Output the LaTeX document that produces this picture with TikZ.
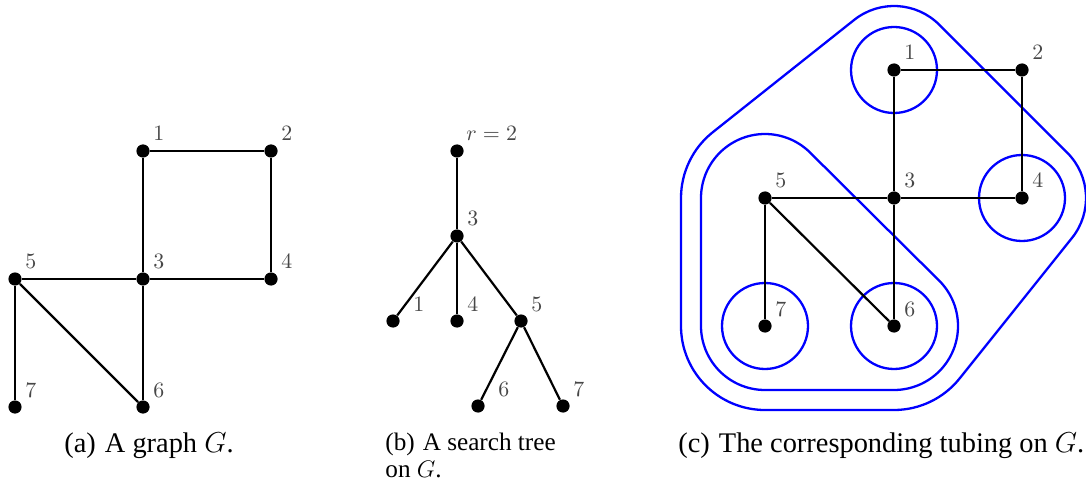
\documentclass[tikz,border=0pt]{standalone}
\usepackage{fontspec}
\setmainfont{Liberation Serif}
\usetikzlibrary{calc}
\tikzset{
  dot/.style={circle, fill=black, inner sep=0pt, minimum size=6.6pt},
  edge/.style={line width=1.1pt},
  lbl/.style={anchor=base west, inner sep=0pt, text=black!72, font=\fontsize{11.3}{13}\selectfont},
  tube/.style={draw=blue, line width=1.15pt},
  captext/.style={anchor=base west, inner sep=0pt, font=\fontsize{14.2}{17}\selectfont},
  captextb/.style={anchor=base west, inner sep=0pt, font=\fontsize{12.6}{15}\selectfont}
}
\begin{document}
\begin{tikzpicture}[x=0.5pt, y=-0.5pt]
\useasboundingbox (0,0) rectangle (1086,486);
% ---------- (a) ----------
\node[dot] (a1) at (143,151) {};
\node[dot] (a2) at (271,151) {};
\node[dot] (a3) at (143,279) {};
\node[dot] (a4) at (271,279) {};
\node[dot] (a5) at (15,279) {};
\node[dot] (a6) at (143,407) {};
\node[dot] (a7) at (15,407) {};
\draw[edge] (a1) -- (a2);
\draw[edge] (a2) -- (a4);
\draw[edge] (a1) -- (a3);
\draw[edge] (a3) -- (a4);
\draw[edge] (a5) -- (a3);
\draw[edge] (a3) -- (a6);
\draw[edge] (a5) -- (a7);
\draw[edge] (a5) -- (a6);
\foreach \n in {1,...,7} { \node[lbl] (la\n) at ($(a\n)+(10,-10)$) {$\n$}; }
\node[captext] (capa) at (64,452) {(a)\hspace{4.5pt}A graph $G$.};
% ---------- (b) ----------
\node[dot] (br) at (457,151) {};
\node[dot] (b3) at (457,236) {};
\node[dot] (b1) at (393,321) {};
\node[dot] (b4) at (457,321) {};
\node[dot] (b5) at (521,321) {};
\node[dot] (b6) at (478,406) {};
\node[dot] (b7) at (563,406) {};
\draw[edge] (br) -- (b3);
\draw[edge] (b3) -- (b1);
\draw[edge] (b3) -- (b4);
\draw[edge] (b3) -- (b5);
\draw[edge] (b5) -- (b6);
\draw[edge] (b5) -- (b7);
\node[lbl] (lbr) at ($(br)+(9,-10)$) {$r=2$};
\node[lbl] (lb3) at ($(b3)+(10,-10)$) {$3$};
\node[lbl] (lb1) at ($(b1)+(20,-10)$) {$1$};
\node[lbl] (lb4) at ($(b4)+(10,-10)$) {$4$};
\node[lbl] (lb5) at ($(b5)+(10,-10)$) {$5$};
\node[lbl] (lb6) at ($(b6)+(20,-10)$) {$6$};
\node[lbl] (lb7) at ($(b7)+(10,-10)$) {$7$};
\node[captextb] (capb) at (385,450) {(b)\hspace{4pt}A search tree};
\node[captextb] (capb2) at (385,477) {on $G$.};
% ---------- (c) ----------
\coordinate (c1) at (894,70);
\coordinate (c2) at (1022,70);
\coordinate (c3) at (894,198);
\coordinate (c4) at (1022,198);
\coordinate (c5) at (765,198);
\coordinate (c6) at (894,326);
\coordinate (c7) at (765,326);
% tubes
\draw[tube] (c1) circle[radius=43];
\draw[tube] (c4) circle[radius=43];
\draw[tube] (c6) circle[radius=43];
\draw[tube] (c7) circle[radius=43];
\draw[tube] ($(c5)+(180:64)$) arc[start angle=180,end angle=314.78,radius=64]
  -- ($(c6)+(314.78:64)$) arc[start angle=314.78,end angle=450,radius=64]
  -- ($(c7)+(90:64)$) arc[start angle=90,end angle=180,radius=64] -- cycle;
\draw[tube] ($(c1)+(231.53:64)$) arc[start angle=231.53,end angle=315,radius=64]
  -- ($(c4)+(315:64)$) arc[start angle=315,end angle=398.66,radius=64]
  -- ($(c6)+(38.66:84)$) arc[start angle=38.66,end angle=90,radius=84]
  -- ($(c7)+(90:84)$) arc[start angle=90,end angle=180,radius=84]
  -- ($(c5)+(180:84)$) arc[start angle=180,end angle=231.53,radius=84] -- cycle;
\foreach \n in {1,...,7} { \node[dot] (d\n) at (c\n) {}; }
\draw[edge] (d1) -- (d2);
\draw[edge] (d2) -- (d4);
\draw[edge] (d1) -- (d3);
\draw[edge] (d3) -- (d4);
\draw[edge] (d5) -- (d3);
\draw[edge] (d3) -- (d6);
\draw[edge] (d5) -- (d7);
\draw[edge] (d5) -- (d6);
\foreach \n in {1,...,7} { \node[lbl] (lc\n) at ($(c\n)+(10,-10)$) {$\n$}; }
\node[captext] (capc) at (678,452) {(c)\hspace{4.5pt}The corresponding tubing on $G$.};
\end{tikzpicture}
\end{document}
